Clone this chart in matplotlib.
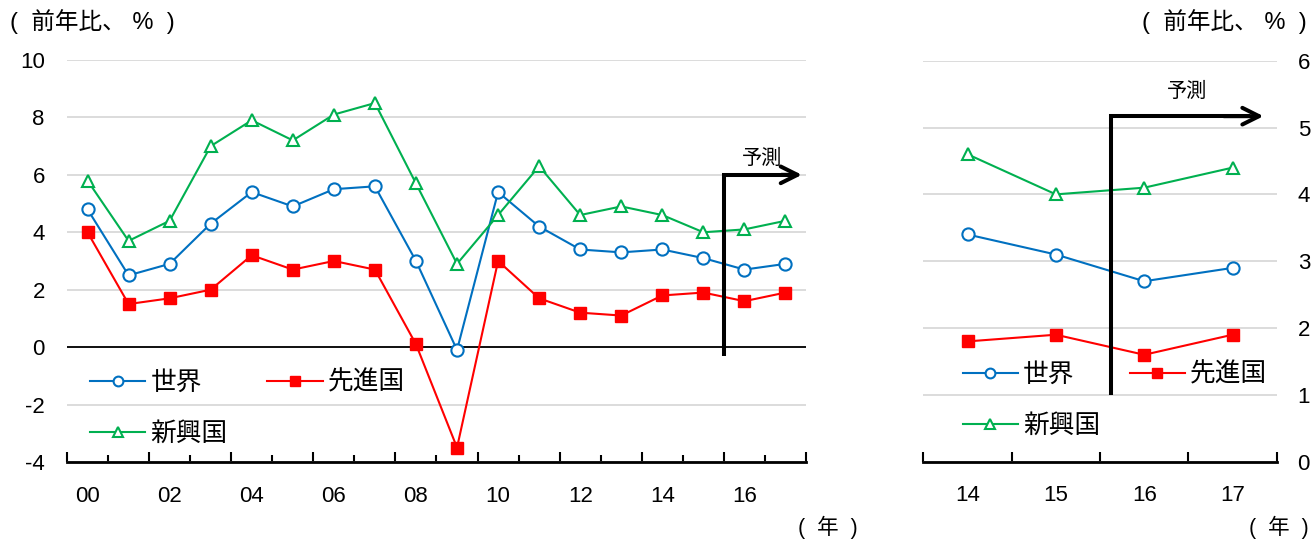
import matplotlib
matplotlib.use("Agg")
import matplotlib.pyplot as plt
from matplotlib.ticker import FixedLocator, NullFormatter

plt.rcParams['font.family'] = ['Liberation Sans', 'Noto Sans CJK JP']

# ---- data: real GDP growth (y/y, %) ----
years_long = ["00", "01", "02", "03", "04", "05", "06", "07", "08", "09",
              "10", "11", "12", "13", "14", "15", "16", "17"]
world_long = [4.8, 2.5, 2.9, 4.3, 5.4, 4.9, 5.5, 5.6, 3.0, -0.1,
              5.4, 4.2, 3.4, 3.3, 3.4, 3.1, 2.7, 2.9]
adv_long = [4.0, 1.5, 1.7, 2.0, 3.2, 2.7, 3.0, 2.7, 0.1, -3.5,
            3.0, 1.7, 1.2, 1.1, 1.8, 1.9, 1.6, 1.9]
emg_long = [5.8, 3.7, 4.4, 7.0, 7.9, 7.2, 8.1, 8.5, 5.7, 2.9,
            4.6, 6.3, 4.6, 4.9, 4.6, 4.0, 4.1, 4.4]

years_short = ["14", "15", "16", "17"]
world_short = [3.4, 3.1, 2.7, 2.9]
adv_short = [1.8, 1.9, 1.6, 1.9]
emg_short = [4.6, 4.0, 4.1, 4.4]

left_yticks = [-4, -2, 0, 2, 4, 6, 8, 10]
right_yticks = [0, 1, 2, 3, 4, 5, 6]

label_world = "世界"
label_adv = "先進国"
label_emg = "新興国"

BLUE = "#0070C0"
RED = "#FF0000"
GREEN = "#00B050"
GRID = "#D9D9D9"

fig = plt.figure(figsize=(13.11, 5.39), dpi=100)
axL = fig.add_axes([0.0511, 0.1429, 0.5637, 0.7458])
axR = fig.add_axes([0.7043, 0.1434, 0.2696, 0.7440])


def draw_series(ax, x, w, a, e):
    lw = 1.5
    hw, = ax.plot(x, w, color=BLUE, lw=lw, marker='o', ms=8.8,
                  mfc='white', mec=BLUE, mew=1.5, label=label_world, zorder=4)
    ha, = ax.plot(x, a, color=RED, lw=lw, marker='s', ms=8.3,
                  mfc=RED, mec=RED, mew=1.0, label=label_adv, zorder=4)
    he, = ax.plot(x, e, color=GREEN, lw=lw, marker='^', ms=8.8,
                  mfc='white', mec=GREEN, mew=1.5, label=label_emg, zorder=4)
    return hw, ha, he


def style_axes(ax, yticks, ylim, xlim):
    ax.set_ylim(*ylim)
    ax.set_xlim(*xlim)
    for s in ['top', 'right', 'left']:
        ax.spines[s].set_visible(False)
    ax.spines['bottom'].set_linewidth(2.0)
    ax.spines['bottom'].set_color('black')
    ax.set_yticks(yticks)
    ax.yaxis.grid(True, color=GRID, lw=1.3, zorder=0)
    ax.set_axisbelow(True)
    ax.tick_params(axis='y', length=0, labelsize=16)


def add_legend(ax, handles, anchor, colspacing):
    hw, ha, he = handles
    return ax.legend([hw, he, ha], [label_world, label_emg, label_adv],
                     ncol=2, loc='upper left', bbox_to_anchor=anchor,
                     frameon=False, fontsize=18.5, handlelength=2.15,
                     handletextpad=0.2, columnspacing=colspacing,
                     labelspacing=1.05, borderpad=0, borderaxespad=0,
                     markerscale=0.8)


# ---------------- left panel ----------------
xL = list(range(len(years_long)))
hL = draw_series(axL, xL, world_long, adv_long, emg_long)
style_axes(axL, left_yticks, (-4, 10), (-0.5, len(xL) - 0.5))
axL.set_yticklabels([str(v) for v in left_yticks])
axL.tick_params(axis='y', pad=16)
axL.axhline(0, color='black', lw=1.3, zorder=2)

# category boundaries: long ticks every two years, short ones in between
bounds = [i - 0.5 for i in range(len(xL) + 1)]
axL.xaxis.set_major_locator(FixedLocator(bounds[::2]))
axL.xaxis.set_minor_locator(FixedLocator(bounds[1::2]))
axL.xaxis.set_major_formatter(NullFormatter())
axL.tick_params(axis='x', which='major', direction='in', length=7, width=1.5)
axL.tick_params(axis='x', which='minor', direction='in', length=5, width=1.5)
secL = axL.secondary_xaxis('bottom')
secL.set_xticks(xL[::2], years_long[::2])
secL.tick_params(length=0, pad=17, labelsize=16)
secL.spines['bottom'].set_visible(False)

# forecast marker
axL.plot([15.5, 15.5, 17.2], [-0.3, 6.0, 6.0], color='black', lw=2.9,
         solid_joinstyle='miter', solid_capstyle='butt', zorder=5)
axL.annotate('', xy=(17.4, 6.0), xytext=(16.9, 6.0),
             arrowprops=dict(arrowstyle='->', lw=2.9, color='black',
                             mutation_scale=30, shrinkA=0, shrinkB=0),
             zorder=5)
axL.text(16.43, 6.25, "予測", fontsize=14.5, ha='center', va='bottom', zorder=6)

add_legend(axL, hL, (0.031, 0.228), 1.55)

# ---------------- right panel ----------------
xR = list(range(len(years_short)))
hR = draw_series(axR, xR, world_short, adv_short, emg_short)
style_axes(axR, right_yticks, (0, 6), (-0.5, len(xR) - 0.5))
axR.yaxis.tick_right()
axR.set_yticklabels([str(v) for v in right_yticks])
axR.tick_params(axis='y', pad=15)
axR.set_xticks([i - 0.5 for i in range(len(xR) + 1)], minor=True)
axR.set_xticks(xR, years_short)
axR.tick_params(axis='x', which='major', length=0, pad=17, labelsize=16)
axR.tick_params(axis='x', which='minor', direction='in', length=7, width=1.5)

axR.plot([1.62, 1.62, 3.2], [1.0, 5.17, 5.17], color='black', lw=2.9,
         solid_joinstyle='miter', solid_capstyle='butt', zorder=5)
axR.annotate('', xy=(3.35, 5.17), xytext=(2.9, 5.17),
             arrowprops=dict(arrowstyle='->', lw=2.9, color='black',
                             mutation_scale=30, shrinkA=0, shrinkB=0),
             zorder=5)
axR.text(2.48, 5.4, "予測", fontsize=14.5, ha='center', va='bottom', zorder=6)

add_legend(axR, hR, (0.111, 0.248), 1.15)

# ---------------- unit labels ----------------
fig.text(10 / 1311, 1 - 22 / 539, "(  前年比、 %  )", fontsize=17,
         ha='left', va='center')
fig.text(1307 / 1311, 1 - 22 / 539, "(  前年比、 %  )", fontsize=17,
         ha='right', va='center')
fig.text(858 / 1311, 1 - 527 / 539, "(  年  )", fontsize=15.5,
         ha='right', va='center')
fig.text(1309 / 1311, 1 - 527 / 539, "(  年  )", fontsize=15.5,
         ha='right', va='center')

fig.savefig("out.png", dpi=100)
